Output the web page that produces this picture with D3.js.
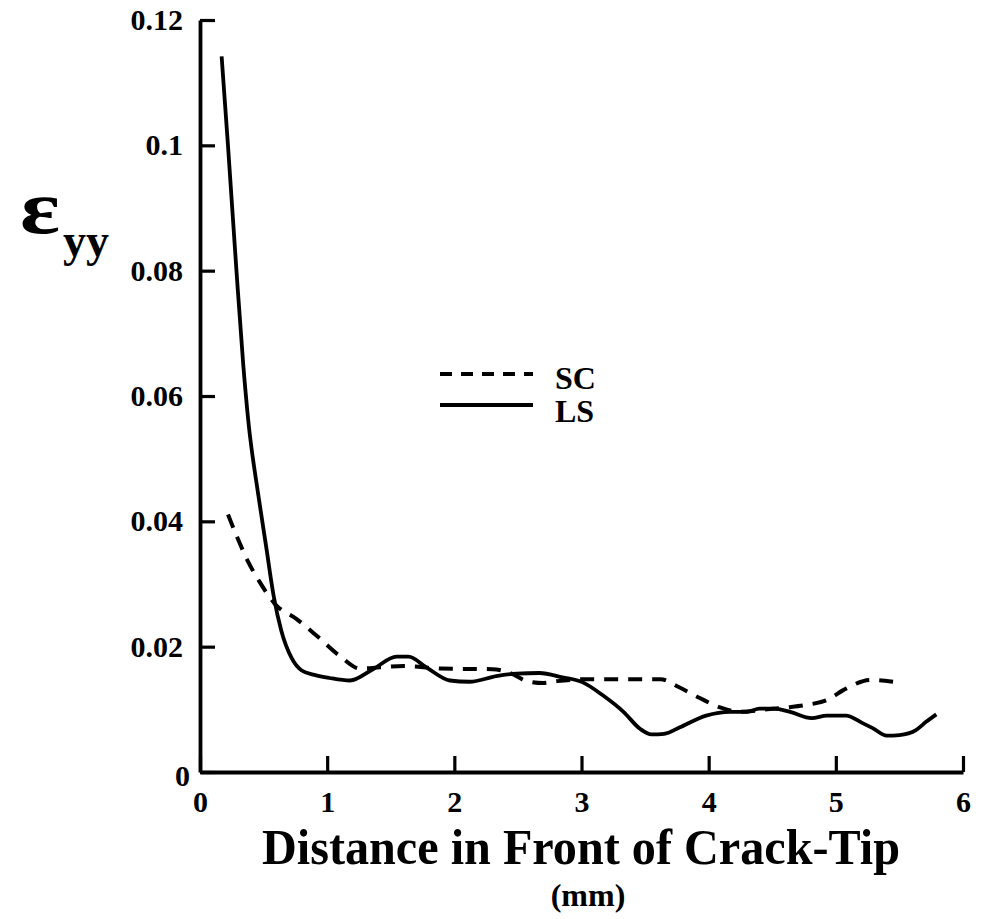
<!DOCTYPE html>
<html>
<head>
<meta charset="utf-8">
<script src="https://cdn.jsdelivr.net/npm/d3@7"></script>
<style>
  html, body { margin: 0; padding: 0; background: #fff; }
  svg { display: block; }
  text { font-family: "Liberation Serif", "Times New Roman", serif; font-weight: bold; fill: #000; }
</style>
</head>
<body>
<svg id="chart" width="986" height="919"></svg>
<script>
// Strain ahead of the crack tip (mm, eps_yy)
const lsX = [0.17, 0.22, 0.285, 0.34, 0.38, 0.46, 0.52, 0.58, 0.64, 0.72, 0.80, 0.90, 1.02, 1.18, 1.36, 1.546, 1.64, 1.78, 1.965, 2.12, 2.33, 2.49, 2.67, 2.85, 3.01, 3.17, 3.33, 3.46, 3.55, 3.65, 3.77, 3.98, 4.17, 4.30, 4.40, 4.51, 4.64, 4.81, 4.93, 5.08, 5.21, 5.29, 5.40, 5.50, 5.63, 5.71, 5.79];
const lsY = [0.1142, 0.100, 0.0805, 0.065, 0.056, 0.044, 0.036, 0.028, 0.0225, 0.0182, 0.0162, 0.0155, 0.0150, 0.0146, 0.0164, 0.0184, 0.0184, 0.0167, 0.0146, 0.0144, 0.0153, 0.0157, 0.0158, 0.0151, 0.0143, 0.0122, 0.0096, 0.0069, 0.0060, 0.0061, 0.0071, 0.0090, 0.0096, 0.0096, 0.0101, 0.0101, 0.0096, 0.0086, 0.0090, 0.0090, 0.0078, 0.0070, 0.0058, 0.0059, 0.0067, 0.0080, 0.0092];

const scX = [0.22, 0.30, 0.38, 0.47, 0.59, 0.76, 0.92, 1.10, 1.26, 1.415, 1.60, 1.89, 2.30, 2.45, 2.57, 2.70, 2.81, 3.04, 3.62, 3.76, 3.93, 4.09, 4.25, 4.46, 4.61, 4.77, 4.93, 5.08, 5.27, 5.45];
const scY = [0.0411, 0.0371, 0.0335, 0.0303, 0.0268, 0.0244, 0.0217, 0.0185, 0.0165, 0.0167, 0.0169, 0.0165, 0.0164, 0.0157, 0.0145, 0.0142, 0.0145, 0.0148, 0.0148, 0.0136, 0.0118, 0.0103, 0.0096, 0.0100, 0.0103, 0.0107, 0.0115, 0.0133, 0.0147, 0.0144];

const xTicks = [0, 1, 2, 3, 4, 5, 6];
const xTickLabels = ["0", "1", "2", "3", "4", "5", "6"];
const yTicks = [0, 0.02, 0.04, 0.06, 0.08, 0.1, 0.12];
const yTickLabels = ["0", "0.02", "0.04", "0.06", "0.08", "0.1", "0.12"];

const seriesNames = ["SC", "LS"];

const svg = d3.select("#chart");
const plotLeft = 200, plotRight = 963, plotTop = 20, plotBottom = 772;

const x = d3.scaleLinear().domain([0, 6]).range([plotLeft, plotRight]);
const y = d3.scaleLinear().domain([0, 0.12]).range([plotBottom, plotTop]);

// Axes with inward ticks
const yAxis = d3.axisLeft(y)
  .tickValues(yTicks)
  .tickFormat((d, i) => yTickLabels[i])
  .tickSizeInner(-15)
  .tickSizeOuter(0)
  .tickPadding(17);

const xAxis = d3.axisBottom(x)
  .tickValues(xTicks)
  .tickFormat((d, i) => xTickLabels[i])
  .tickSizeInner(-16)
  .tickSizeOuter(0)
  .tickPadding(19);

const gy = svg.append("g").attr("transform", `translate(${plotLeft},0)`).call(yAxis);
const gx = svg.append("g").attr("transform", `translate(0,${plotBottom})`).call(xAxis);

[gy, gx].forEach(g => {
  g.select(".domain").attr("stroke", "#000").attr("stroke-width", 3.8);
  g.selectAll(".tick line").attr("stroke", "#000").attr("stroke-width", 3.2);
  g.selectAll(".tick text")
    .style("font-family", '"Liberation Serif", "Times New Roman", serif')
    .style("font-weight", "bold")
    .style("font-size", "30px")
    .attr("fill", "#000");
});
gy.selectAll(".tick text").filter(d => d === 0).attr("dx", 7).attr("dy", "0.45em");

// Curves
const line = d3.line()
  .x(d => x(d[0]))
  .y(d => y(d[1]))
  .curve(d3.curveMonotoneX);

const lsData = lsX.map((v, i) => [v, lsY[i]]);
const scData = scX.map((v, i) => [v, scY[i]]);

svg.append("path")
  .datum(scData)
  .attr("d", line)
  .attr("fill", "none")
  .attr("stroke", "#000")
  .attr("stroke-width", 4)
  .attr("stroke-dasharray", "14,10");

svg.append("path")
  .datum(lsData)
  .attr("d", line)
  .attr("fill", "none")
  .attr("stroke", "#000")
  .attr("stroke-width", 3.8)
  .attr("stroke-linejoin", "round");

// Legend
const legend = svg.append("g");
legend.append("line")
  .attr("x1", 440).attr("x2", 533).attr("y1", 374).attr("y2", 374)
  .attr("stroke", "#000").attr("stroke-width", 4).attr("stroke-dasharray", "12,9");
legend.append("line")
  .attr("x1", 440).attr("x2", 533).attr("y1", 405).attr("y2", 405)
  .attr("stroke", "#000").attr("stroke-width", 4);
legend.append("text").attr("x", 555).attr("y", 389).style("font-size", "32px").text(seriesNames[0]);
legend.append("text").attr("x", 555).attr("y", 422).style("font-size", "32px").text(seriesNames[1]);

// Axis titles
svg.append("text")
  .attr("x", 262).attr("y", 864)
  .style("font-size", "50px")
  .attr("textLength", 638)
  .attr("lengthAdjust", "spacingAndGlyphs")
  .text("Distance in Front of Crack-Tip");

svg.append("text")
  .attr("x", 588).attr("y", 906)
  .attr("text-anchor", "middle")
  .style("font-size", "32px")
  .text("(mm)");

svg.append("text").attr("x", 20).attr("y", 233).style("font-size", "76px")
  .attr("textLength", 40).attr("lengthAdjust", "spacingAndGlyphs")
  .text("ε");
svg.append("text").attr("x", 63).attr("y", 256).style("font-size", "46px").text("yy");
</script>
</body>
</html>
